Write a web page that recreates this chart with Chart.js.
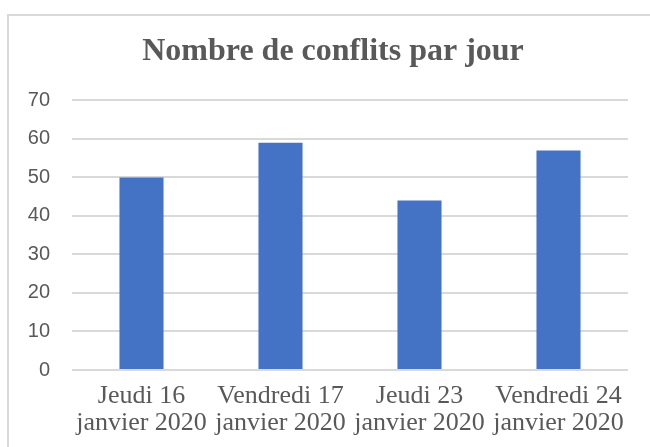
<!DOCTYPE html>
<html>
<head>
<meta charset="utf-8">
<script src="https://cdn.jsdelivr.net/npm/chart.js@4"></script>
<style>
    html, body { margin: 0; padding: 0; background: #fff; overflow: hidden; }
    #frame { position: absolute; left: 7px; top: 14px; width: 700px; height: 500px; border-top: 2px solid #d9d9d9; border-left: 2px solid #d9d9d9; }
    #chart { position: absolute; left: 0; top: 0; }
</style>
</head>
<body>
<div id="frame"></div>
<canvas id="chart" width="650" height="447"></canvas>
<script>
// data
const days = [
    ['Jeudi 16', 'janvier 2020'],
    ['Vendredi 17', 'janvier 2020'],
    ['Jeudi 23', 'janvier 2020'],
    ['Vendredi 24', 'janvier 2020']
];
const conflicts = [50, 59, 44, 57];
const yTicks = [0, 10, 20, 30, 40, 50, 60, 70];

const textColor = '#595959';
const gridColor = '#d9d9d9';

// the original title sits a bit right of the plot center
const shiftTitle = {
    id: 'shiftTitle',
    afterLayout(chart) {
        if (chart.titleBlock) chart.titleBlock.left = 38;
    }
};

new Chart(document.getElementById('chart'), {
    type: 'bar',
    data: {
        labels: days,
        datasets: [{
            label: 'Nombre de conflits',
            data: conflicts,
            backgroundColor: '#4472c4',
            borderWidth: 0,
            categoryPercentage: 1,
            barPercentage: 0.317
        }]
    },
    options: {
        responsive: false,
        animation: false,
        layout: { padding: { left: 0, right: 22, top: 0, bottom: 0 } },
        plugins: {
            legend: { display: false },
            tooltip: { enabled: false },
            title: {
                display: true,
                text: 'Nombre de conflits par jour',
                color: textColor,
                font: { family: "'Liberation Serif', 'Times New Roman', serif", size: 32, weight: 'bold', lineHeight: 1.2 },
                padding: { top: 33, bottom: 29 }
            }
        },
        scales: {
            x: {
                afterFit: scale => { scale.height = 77; },
                grid: { display: false, drawTicks: false },
                border: { display: false },
                ticks: {
                    color: textColor,
                    padding: 13,
                    maxRotation: 0,
                    autoSkip: false,
                    font: { family: "'Liberation Serif', 'Times New Roman', serif", size: 26, lineHeight: 1.04 }
                }
            },
            y: {
                min: yTicks[0],
                max: yTicks[yTicks.length - 1],
                afterFit: scale => { scale.width = 72; },
                afterBuildTicks: scale => { scale.ticks = yTicks.map(v => ({ value: v })); },
                grid: { color: gridColor, lineWidth: 2, drawTicks: false },
                border: { display: false },
                ticks: {
                    color: textColor,
                    padding: 22,
                    font: { family: "'Liberation Sans', Arial, sans-serif", size: 20 }
                }
            }
        }
    },
    plugins: [shiftTitle]
});
</script>
</body>
</html>
